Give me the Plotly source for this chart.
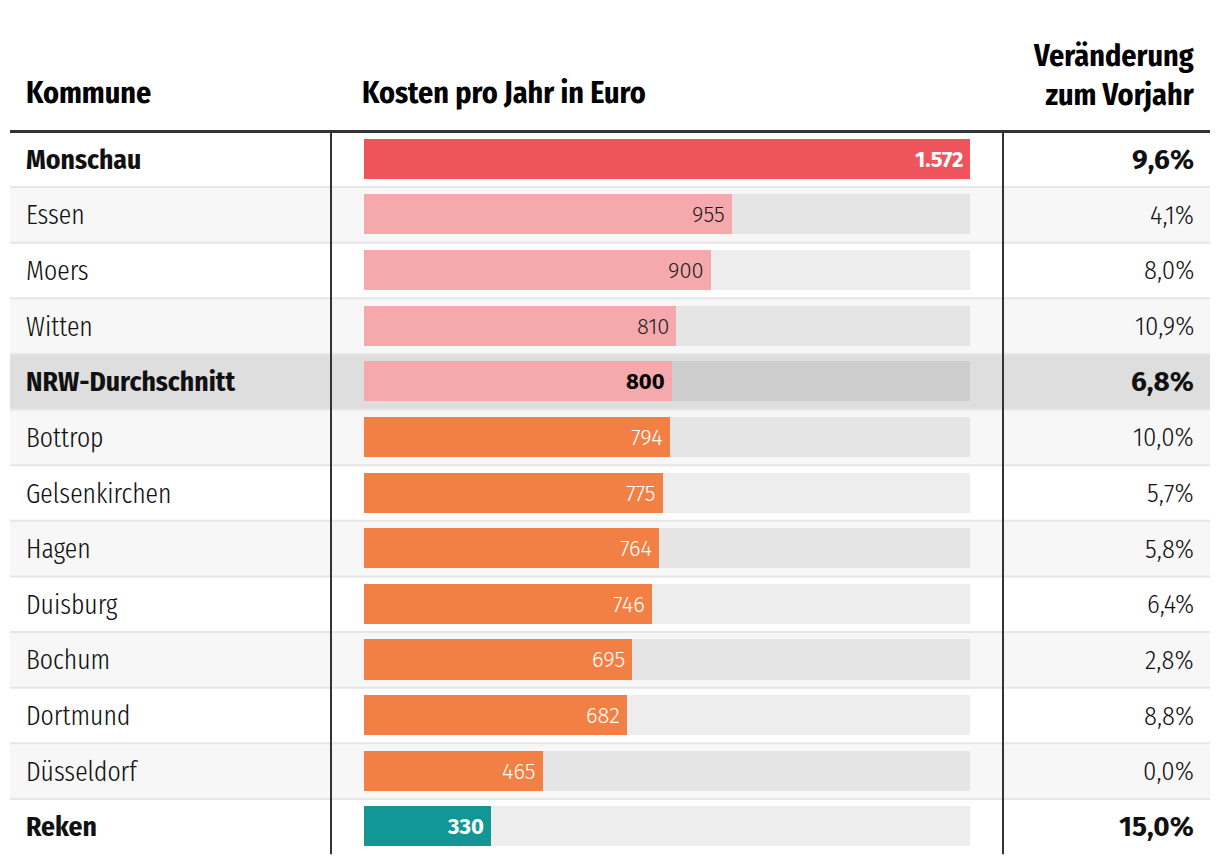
import plotly.graph_objects as go

# ---- data ----
kommunen = ["Monschau", "Essen", "Moers", "Witten", "NRW-Durchschnitt", "Bottrop",
            "Gelsenkirchen", "Hagen", "Duisburg", "Bochum", "Dortmund", "Düsseldorf", "Reken"]
kosten = [1572, 955, 900, 810, 800, 794, 775, 764, 746, 695, 682, 465, 330]
veraenderung = [9.6, 4.1, 8.0, 10.9, 6.8, 10.0, 5.7, 5.8, 6.4, 2.8, 8.8, 0.0, 15.0]
gruppe = ["max", "hoch", "hoch", "hoch", "schnitt", "ruhr", "ruhr", "ruhr", "ruhr",
          "ruhr", "ruhr", "ruhr", "min"]
headers = ["Kommune", "Kosten pro Jahr in Euro", "Veränderung<br>zum Vorjahr"]

bar_colors = {"max": "#ef535c", "hoch": "#f6a9ac", "schnitt": "#f6a9ac",
              "ruhr": "#f28045", "min": "#139696"}
label_colors = {"max": "white", "hoch": "#1a1a1a", "schnitt": "#000000",
                "ruhr": "white", "min": "white"}
bold_rows = {"max", "schnitt", "min"}

W, H = 1220, 864
px = lambda v: v / W
py = lambda v: (H - v) / H

COND_B = "Fira Sans Condensed"
COND_L = "Fira Sans Condensed Light"
XCOND_L = "Fira Sans Extra Condensed Light"
SANS_B = "Fira Sans"
SANS_L = "Fira Sans Light"

n = len(kommunen)
fig = go.Figure()

# background track
fig.add_trace(go.Bar(
    y=kommunen, x=[max(kosten)] * n, orientation="h",
    marker=dict(color="rgba(0,0,0,0.07)", line=dict(width=0)),
    width=0.72, hoverinfo="skip", showlegend=False))
# value bars
fig.add_trace(go.Bar(
    y=kommunen, x=kosten, orientation="h",
    marker=dict(color=[bar_colors[g] for g in gruppe], line=dict(width=0)),
    width=0.72, showlegend=False))

shapes = []
for i, g in enumerate(gruppe):
    if g == "schnitt":
        bg = "#dedede"
    elif i % 2 == 1:
        bg = "#f7f7f7"
    else:
        bg = "#ffffff"
    shapes.append(dict(type="rect", xref="paper", yref="y", x0=px(10), x1=px(1210),
                       y0=i - 0.5, y1=i + 0.5, fillcolor=bg, line=dict(width=0),
                       layer="below"))
for i in range(n - 1):
    shapes.append(dict(type="line", xref="paper", yref="y", x0=px(10), x1=px(1210),
                       y0=i + 0.5, y1=i + 0.5, line=dict(color="#e6e6e6", width=2),
                       layer="below"))
# vertical separators
for xv in (331, 1003):
    shapes.append(dict(type="line", xref="paper", yref="y", x0=px(xv), x1=px(xv),
                       y0=-0.5, y1=n - 0.5, line=dict(color="#333333", width=2)))
# header rule
shapes.append(dict(type="line", xref="paper", yref="paper", x0=px(10), x1=px(1210),
                   y0=py(131.5), y1=py(131.5), line=dict(color="#333333", width=3)))

ann = []
# headers
ann.append(dict(text=headers[0], x=px(24), y=py(93), xref="paper", yref="paper",
                xanchor="left", yanchor="middle", showarrow=False,
                font=dict(family=COND_B, size=30, color="#000", weight="bold")))
ann.append(dict(text=headers[1], x=px(360), y=py(93), xref="paper", yref="paper",
                xanchor="left", yanchor="middle", showarrow=False,
                font=dict(family=COND_B, size=30, color="#000", weight="bold")))
ann.append(dict(text=headers[2], x=px(1197), y=py(76), xref="paper", yref="paper",
                xanchor="right", yanchor="middle", align="right", showarrow=False,
                font=dict(family=COND_B, size=30, color="#000", weight="bold")))

for name, v, p, g in zip(kommunen, kosten, veraenderung, gruppe):
    bold = g in bold_rows
    if bold:
        lf = dict(family=COND_B, size=27.5, color="#111", weight="bold")
        pf = dict(family=SANS_B, size=28, color="#111", weight="bold")
    else:
        lf = dict(family=XCOND_L, size=28, color="#111", weight=300)
        pf = dict(family=COND_L, size=26.5, color="#111", weight=300)
    ann.append(dict(text=name, x=px(24), y=name, xref="paper", yref="y",
                    xanchor="left", yanchor="middle", showarrow=False, font=lf))
    ptxt = f"{p:.1f}".replace(".", ",") + "%"
    ann.append(dict(text=ptxt, x=px(1196), y=name, xref="paper", yref="y",
                    xanchor="right", yanchor="middle", showarrow=False, font=pf))
    vtxt = f"{v:,}".replace(",", ".")
    ann.append(dict(text=vtxt, x=v, y=name, xref="x", yref="y", xshift=-5,
                    xanchor="right", yanchor="middle", showarrow=False,
                    font=dict(family=SANS_B if bold else SANS_L, size=22,
                              color=label_colors[g], weight="bold" if bold else 300)))

fig.update_layout(
    width=W, height=H, margin=dict(l=0, r=0, t=0, b=0),
    paper_bgcolor="white", plot_bgcolor="rgba(0,0,0,0)",
    barmode="overlay", bargap=0,
    xaxis=dict(domain=[px(364), px(970)], range=[0, max(kosten)], visible=False,
               fixedrange=True),
    yaxis=dict(domain=[py(854.6), py(131.4)], type="category",
               range=[n - 0.5, -0.5], visible=False, fixedrange=True),
    shapes=shapes, annotations=ann,
)

fig.write_html("out.html")
